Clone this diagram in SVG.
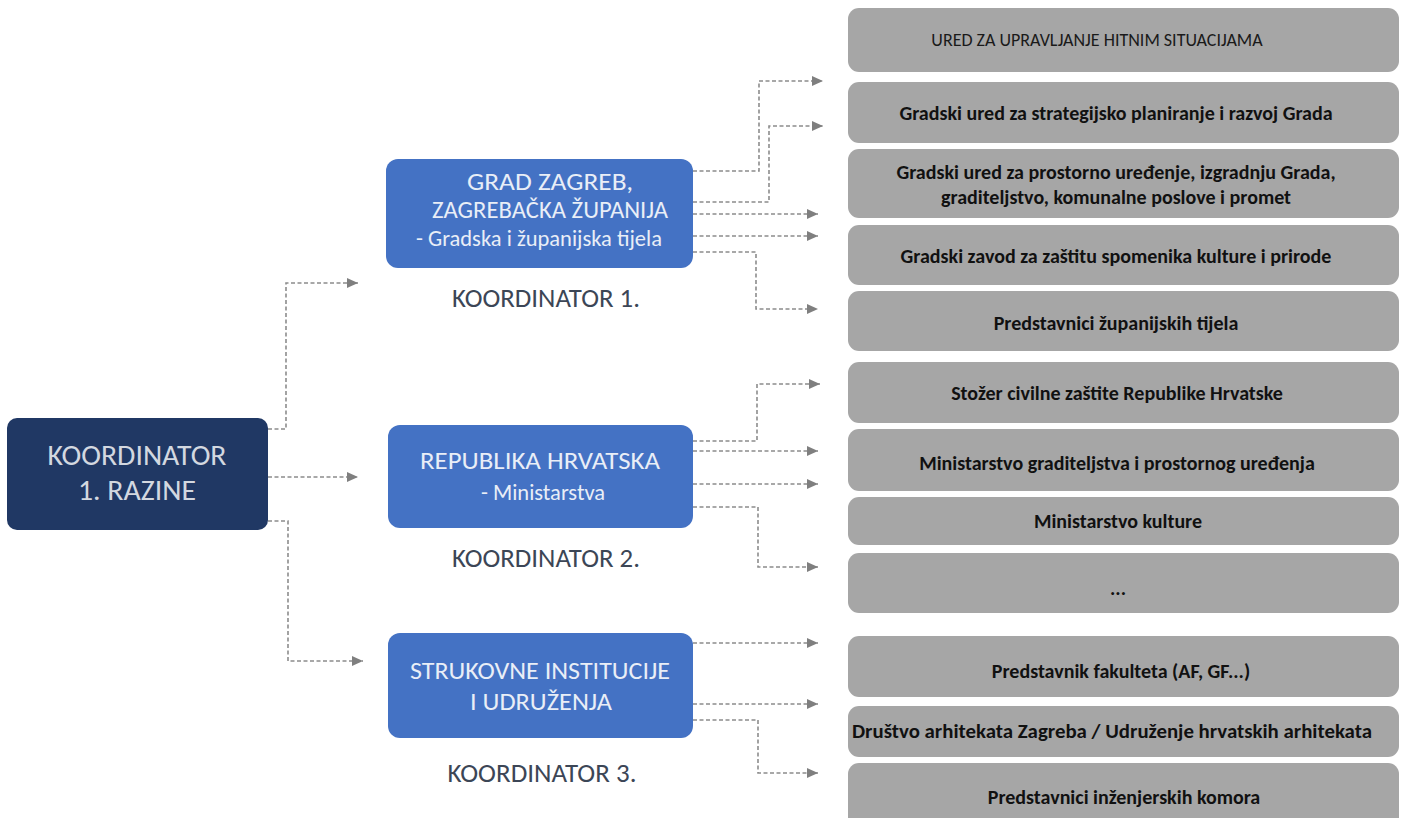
<svg xmlns="http://www.w3.org/2000/svg" width="1404" height="818" viewBox="0 0 1404 818">
<defs>
<marker id="arr" viewBox="0 0 10 10" refX="10" refY="5" markerWidth="11" markerHeight="11" markerUnits="userSpaceOnUse" orient="auto">
<path d="M0,0.5 L10,5 L0,9.5 z" fill="#7f7f7f"/>
</marker>
<style>
text{font-family:Carlito,Lato,"Liberation Sans",sans-serif;text-anchor:middle}
.gbox{fill:#a6a6a6}
.gt{font-size:20px;font-weight:700;fill:#111}
.gt0{font-size:18px;font-weight:400;fill:#1a1a1a}
.mbox{fill:#4472c4}
.mt{font-size:22.5px;font-weight:300;fill:#e9eef7}
.mc{font-size:23.5px;font-weight:300;fill:#e9eef7}
.lbox{fill:#203864}
.lt{font-size:29px;font-weight:300;fill:#d3d8e0}
.kt{font-size:26px;font-weight:300;fill:#3c4656}
.con{fill:none;stroke:#8c8c8c;stroke-width:1.6;stroke-dasharray:4 2.5;marker-end:url(#arr)}
</style>
</defs>
<rect width="1404" height="818" fill="#ffffff"/>
<g id="connectors">
<path class="con" d="M268,429 H286 V283 H358"/>
<path class="con" d="M268,477 H358"/>
<path class="con" d="M268,521 H288 V661 H363"/>
<path class="con" d="M693,171 H759 V81 H823"/>
<path class="con" d="M693,202 H769 V126 H823"/>
<path class="con" d="M693,214 H818"/>
<path class="con" d="M693,236 H818"/>
<path class="con" d="M693,252 H756 V309 H818"/>
<path class="con" d="M693,441 H757 V384 H820"/>
<path class="con" d="M693,451 H818"/>
<path class="con" d="M693,484 H818"/>
<path class="con" d="M693,507 H758 V567 H818"/>
<path class="con" d="M693,643 H818"/>
<path class="con" d="M693,704 H818"/>
<path class="con" d="M693,720 H758 V773 H818"/>
</g>
<g id="koordinator-1-razine">
<rect class="lbox" x="7" y="418" width="261" height="112" rx="10"/>
<text class="lt" x="137" y="465" textLength="179" lengthAdjust="spacingAndGlyphs">KOORDINATOR</text>
<text class="lt" x="137" y="500" textLength="118" lengthAdjust="spacingAndGlyphs">1. RAZINE</text>
</g>
<g id="grad-zagreb">
<rect class="mbox" x="386" y="159" width="307" height="109" rx="12"/>
<text class="mc" x="550" y="190" textLength="166" lengthAdjust="spacingAndGlyphs">GRAD ZAGREB,</text>
<text class="mc" x="550" y="218" textLength="236" lengthAdjust="spacingAndGlyphs">ZAGREBAČKA ŽUPANIJA</text>
<text class="mt" x="539" y="246">- Gradska i županijska tijela</text>
<text class="kt" x="546" y="307" textLength="188" lengthAdjust="spacingAndGlyphs">KOORDINATOR 1.</text>
</g>
<g id="republika-hrvatska">
<rect class="mbox" x="388" y="425" width="305" height="103" rx="12"/>
<text class="mc" x="540" y="469" textLength="240" lengthAdjust="spacingAndGlyphs">REPUBLIKA HRVATSKA</text>
<text class="mt" x="543" y="500">- Ministarstva</text>
<text class="kt" x="546" y="567" textLength="188" lengthAdjust="spacingAndGlyphs">KOORDINATOR 2.</text>
</g>
<g id="strukovne-institucije">
<rect class="mbox" x="388" y="633" width="305" height="105" rx="12"/>
<text class="mc" x="540" y="679" textLength="260" lengthAdjust="spacingAndGlyphs">STRUKOVNE INSTITUCIJE</text>
<text class="mc" x="541" y="710" textLength="142" lengthAdjust="spacingAndGlyphs">I UDRUŽENJA</text>
<text class="kt" x="542" y="782" textLength="189" lengthAdjust="spacingAndGlyphs">KOORDINATOR 3.</text>
</g>
<g id="ured-hitne">
<rect class="gbox" x="848" y="8" width="551" height="64" rx="11"/>
<text class="gt0" x="1097" y="46">URED ZA UPRAVLJANJE HITNIM SITUACIJAMA</text>
</g>
<g id="ured-strategija">
<rect class="gbox" x="848" y="82" width="551" height="61" rx="11"/>
<text class="gt" x="1116" y="120">Gradski ured za strategijsko planiranje i razvoj Grada</text>
</g>
<g id="ured-prostor">
<rect class="gbox" x="848" y="149" width="551" height="69" rx="11"/>
<text class="gt" x="1116" y="179">Gradski ured za prostorno uređenje, izgradnju Grada,</text>
<text class="gt" x="1116" y="204">graditeljstvo, komunalne poslove i promet</text>
</g>
<g id="zavod-spomenici">
<rect class="gbox" x="848" y="225" width="551" height="60" rx="11"/>
<text class="gt" x="1116" y="263">Gradski zavod za zaštitu spomenika kulture i prirode</text>
</g>
<g id="zupanijska-tijela">
<rect class="gbox" x="848" y="291" width="551" height="60" rx="11"/>
<text class="gt" x="1116" y="330">Predstavnici županijskih tijela</text>
</g>
<g id="stozer">
<rect class="gbox" x="848" y="362" width="551" height="61" rx="11"/>
<text class="gt" x="1117" y="400">Stožer civilne zaštite Republike Hrvatske</text>
</g>
<g id="ministarstvo-graditeljstva">
<rect class="gbox" x="848" y="429" width="551" height="62" rx="11"/>
<text class="gt" x="1117" y="470">Ministarstvo graditeljstva i prostornog uređenja</text>
</g>
<g id="ministarstvo-kulture">
<rect class="gbox" x="848" y="497" width="551" height="48" rx="11"/>
<text class="gt" x="1118" y="528">Ministarstvo kulture</text>
</g>
<g id="ostalo">
<rect class="gbox" x="848" y="553" width="551" height="60" rx="11"/>
<text class="gt" x="1118" y="595">...</text>
</g>
<g id="fakultet">
<rect class="gbox" x="848" y="636" width="551" height="61" rx="11"/>
<text class="gt" x="1121" y="678">Predstavnik fakulteta (AF, GF...)</text>
</g>
<g id="drustvo-arhitekata">
<rect class="gbox" x="848" y="706" width="551" height="51" rx="11"/>
<text class="gt" x="1112" y="738" textLength="520" lengthAdjust="spacingAndGlyphs">Društvo arhitekata Zagreba / Udruženje hrvatskih arhitekata</text>
</g>
<g id="inzenjerske-komore">
<rect class="gbox" x="848" y="763" width="551" height="70" rx="11"/>
<text class="gt" x="1124" y="804">Predstavnici inženjerskih komora</text>
</g>
</svg>
